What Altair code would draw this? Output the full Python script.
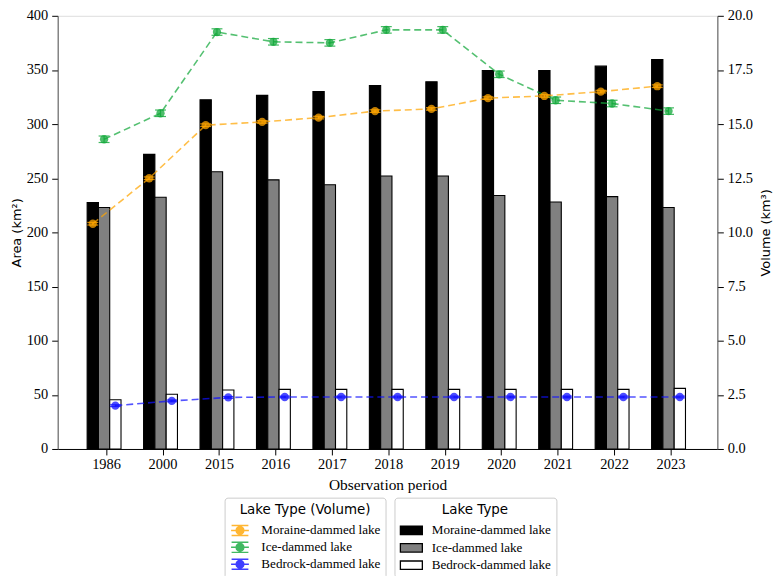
import altair as alt
import pandas as pd

years = ["1986", "2000", "2015", "2016", "2017", "2018", "2019", "2020", "2021", "2022", "2023"]
types = ["Moraine-dammed lake", "Ice-dammed lake", "Bedrock-dammed lake"]

# Area (km2) bars
moraine_area = [227.5, 272, 322.5, 326.5, 330, 335.5, 339, 349.5, 349.5, 353.5, 359.5]
ice_area = [223, 232.5, 256, 248.5, 244, 252, 252, 234, 228, 233, 223]
bedrock_area = [45.5, 50.5, 54.5, 55, 55, 55, 55, 55, 55, 55, 56]

# Volume (km3) lines
moraine_vol = [10.4, 12.5, 14.95, 15.1, 15.3, 15.6, 15.7, 16.2, 16.3, 16.5, 16.75]
ice_vol = [14.3, 15.5, 19.25, 18.8, 18.75, 19.35, 19.35, 17.3, 16.1, 15.95, 15.6]
bedrock_vol = [2.0, 2.22, 2.38, 2.4, 2.4, 2.4, 2.4, 2.4, 2.4, 2.4, 2.4]

# Volume uncertainties (km3)
moraine_err = [0.06, 0.06, 0.06, 0.06, 0.06, 0.06, 0.06, 0.06, 0.06, 0.06, 0.06]
ice_err = [0.15, 0.15, 0.15, 0.15, 0.15, 0.15, 0.15, 0.15, 0.15, 0.15, 0.15]
bedrock_err = [0.04, 0.04, 0.04, 0.04, 0.04, 0.04, 0.04, 0.04, 0.04, 0.04, 0.04]

group_offsets = [-0.235, -0.035, 0.165]
bar_half = 0.1

# bar categories carry an "(area)" tag so the two legends stay separate
bar_types = [t + " (area)" for t in types]

bar_rows = []
for k, (t, vals) in enumerate(zip(bar_types, [moraine_area, ice_area, bedrock_area])):
    for i, v in enumerate(vals):
        p = i + group_offsets[k]
        bar_rows.append({"year": years[i], "bar_type": t, "area": v,
                         "x0": p - bar_half, "x1": p + bar_half})
bars_df = pd.DataFrame(bar_rows)

vol_rows = []
for k, (t, vals, errs) in enumerate(zip(types, [moraine_vol, ice_vol, bedrock_vol],
                                        [moraine_err, ice_err, bedrock_err])):
    for i, v in enumerate(vals):
        vol_rows.append({"year": years[i], "vol_type": t, "vol": v,
                         "lo": v - errs[i], "hi": v + errs[i],
                         "pos": i + group_offsets[k]})
vol_df = pd.DataFrame(vol_rows)

SERIF = "Liberation Serif"
SANS = "DejaVu Sans"

label_expr = "[" + ",".join("'" + y + "'" for y in years) + "][datum.value]"
xscale = alt.Scale(domain=[-0.857, 10.83], nice=False, zero=False)
xaxis = alt.Axis(values=list(range(len(years))), labelExpr=label_expr, title="Observation period",
                 labelFont=SERIF, labelFontSize=14.5, titleFont=SERIF, titleFontSize=15.5,
                 titleFontWeight="normal", tickSize=6, labelPadding=3, titlePadding=6,
                 grid=False, domainColor="black", tickColor="black", labelColor="black",
                 titleColor="black")

legend_common = dict(orient="none", legendY=485, symbolSize=169,
                     labelFont=SERIF, labelFontSize=13.2, labelColor="black",
                     titleFont=SANS, titleFontSize=13.5, titleFontWeight="normal",
                     titleColor="black", titleAnchor="middle",
                     strokeColor="#cccccc", fillColor="white", padding=5,
                     cornerRadius=3, titlePadding=7)

bars = alt.Chart(bars_df).mark_bar(stroke="black", strokeWidth=1.1).encode(
    x=alt.X("x0:Q", scale=xscale, axis=xaxis),
    x2="x1:Q",
    y=alt.Y("area:Q", scale=alt.Scale(domain=[0, 400], nice=False),
            axis=alt.Axis(values=list(range(0, 401, 50)), title="Area (km²)",
                          labelFont=SERIF, labelFontSize=14.5, titleFont=SANS, titleFontSize=13,
                          titleFontWeight="normal", tickSize=6, labelPadding=4, titlePadding=3,
                          grid=False, domainColor="#555", tickColor="black",
                          labelColor="black", titleColor="black")),
    y2=alt.datum(0),
    fill=alt.Fill("bar_type:N", scale=alt.Scale(domain=bar_types, range=["black", "#808080", "white"]),
                  legend=alt.Legend(title="Lake Type", legendX=339,
                                    labelExpr="replace(datum.label, ' (area)', '')",
                                    symbolType="M-1.7,-0.65H1.7V0.65H-1.7Z",
                                    symbolOffset=4.5, labelOffset=13, rowPadding=2.5,
                                    symbolStrokeColor="black", symbolStrokeWidth=1.3,
                                    **legend_common)),
)

vscale = alt.Scale(domain=[0, 20], nice=False)
vaxis = alt.Axis(values=[0, 2.5, 5, 7.5, 10, 12.5, 15, 17.5, 20], format=".1f", orient="right",
                 title="Volume (km³)", labelFont=SERIF, labelFontSize=14.5, titleFont=SANS,
                 titleFontSize=13, titleFontWeight="normal", titleAngle=270, tickSize=6,
                 labelPadding=4, titlePadding=20, grid=False, domainColor="#555",
                 tickColor="black", labelColor="black", titleColor="black")
cscale = alt.Scale(domain=types, range=["#FFA500", "#12A83A", "#1010FF"])
marker_path = ("M-1.38,0H1.38M-1.3,-0.78H1.3M-1.3,0.78H1.3M0,-0.78V0.78"
               "M0.6,0L0.52,0.3L0.3,0.52L0,0.6L-0.3,0.52L-0.52,0.3L-0.6,0"
               "L-0.52,-0.3L-0.3,-0.52L0,-0.6L0.3,-0.52L0.52,-0.3Z")
clegend = alt.Legend(title="Lake Type (Volume)", legendX=168,
                     symbolType=marker_path,
                     symbolOffset=3, labelOffset=14, rowPadding=0,
                     symbolStrokeWidth=1.5, symbolOpacity=0.8,
                     **legend_common)

base = alt.Chart(vol_df).encode(
    x=alt.X("pos:Q", scale=xscale, axis=xaxis),
)
lines = base.mark_line(strokeDash=[7, 4], strokeWidth=1.6, opacity=0.72).encode(
    y=alt.Y("vol:Q", scale=vscale, axis=vaxis),
    color=alt.Color("vol_type:N", scale=cscale, legend=clegend),
    detail="vol_type:N",
)
errs = base.mark_errorbar(ticks=True, size=11, thickness=1.2, opacity=0.8).encode(
    y=alt.Y("lo:Q", scale=vscale, axis=vaxis),
    y2="hi:Q",
    color=alt.Color("vol_type:N", scale=cscale, legend=None),
)
pts = base.mark_circle(size=70, opacity=0.75).encode(
    y=alt.Y("vol:Q", scale=vscale, axis=vaxis),
    color=alt.Color("vol_type:N", scale=cscale, legend=None),
)
vol_layer = alt.layer(lines, errs, pts)

chart = alt.layer(bars, vol_layer).resolve_scale(y="independent").properties(
    width=664, height=436,
    autosize=alt.AutoSizeParams(type="none"),
    padding={"left": 50, "top": 6, "right": 57, "bottom": 126},
).configure_view(stroke="black", strokeWidth=1.2).configure(background="white")

chart.save("out.html", embed_options={"renderer": "svg", "actions": False})
